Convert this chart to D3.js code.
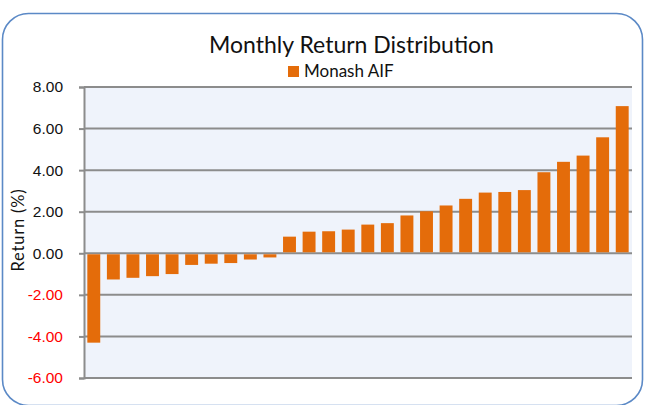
<!DOCTYPE html>
<html>
<head>
<meta charset="utf-8">
<script src="https://cdn.jsdelivr.net/npm/d3@7"></script>
<style>
  html, body { margin: 0; padding: 0; background: #fff; }
  svg { display: block; font-family: Lato, "Open Sans", sans-serif; }
</style>
</head>
<body>
<div id="chart"></div>
<script>
const WIDTH = 653;
const HEIGHT = 405;
const MARGIN = { top: 87, right: 21, bottom: 27, left: 84 };

// monthly returns, sorted ascending (%)
const returns = [
  -4.3, -1.26, -1.18, -1.1, -1.0, -0.56, -0.5, -0.47, -0.3, -0.2,
  0.8, 1.04, 1.06, 1.14, 1.38, 1.45, 1.82, 2.02, 2.3, 2.62,
  2.92, 2.95, 3.04, 3.9, 4.4, 4.7, 5.58, 7.08
];
const yTicks = [-6, -4, -2, 0, 2, 4, 6, 8];
const seriesName = "Monash AIF";
const title = "Monthly Return Distribution";

const svg = d3.select("#chart")
  .append("svg")
  .attr("width", WIDTH)
  .attr("height", HEIGHT);

// outer frame
svg.append("rect")
  .attr("x", 2.5)
  .attr("y", 13.5)
  .attr("width", 640)
  .attr("height", 392)
  .attr("rx", 26)
  .attr("fill", "#fff")
  .attr("stroke", "#5b89c6")
  .attr("stroke-width", 1.6);

const x = d3.scaleBand()
  .domain(returns.map((_, i) => i))
  .range([MARGIN.left, WIDTH - MARGIN.right])
  .paddingInner(0.34)
  .paddingOuter(0.17);

const y = d3.scaleLinear()
  .domain([-6, 8])
  .range([HEIGHT - MARGIN.bottom, MARGIN.top]);

svg.append("rect")
  .attr("x", MARGIN.left)
  .attr("y", y(8))
  .attr("width", WIDTH - MARGIN.right - MARGIN.left)
  .attr("height", y(-6) - y(8))
  .attr("fill", "#eff3fb");

// plain hyphen for negatives, as in the original
const fmt = (d) => (d < 0 ? "-" : "") + Math.abs(d).toFixed(2);

const yAxis = svg.append("g")
  .attr("transform", `translate(${MARGIN.left},0)`)
  .call(d3.axisLeft(y).tickValues(yTicks).tickSize(5).tickFormat(fmt));
yAxis.select(".domain").attr("stroke", "#8c8c8c").attr("stroke-width", 2);
yAxis.selectAll(".tick line").attr("stroke", "#8c8c8c").attr("stroke-width", 2);
yAxis.selectAll(".tick text")
  .attr("x", -21)
  .attr("font-size", 15.5)
  .attr("fill", (d) => (d < 0 ? "#ff0000" : "#111"));

svg.append("g")
  .selectAll("line")
  .data(yTicks)
  .join("line")
  .attr("x1", MARGIN.left)
  .attr("x2", WIDTH - MARGIN.right)
  .attr("y1", (d) => y(d))
  .attr("y2", (d) => y(d))
  .attr("stroke", "#8c8c8c")
  .attr("stroke-width", 2);

svg.append("g")
  .selectAll("rect")
  .data(returns)
  .join("rect")
  .attr("x", (d, i) => x(i))
  .attr("width", x.bandwidth())
  .attr("y", (d) => Math.min(y(d), y(0) + 1))
  .attr("height", (d) => Math.abs(y(d) - y(0)) - 1)
  .attr("fill", "#e46c0a");

// title and legend
svg.append("text")
  .attr("x", 351.5)
  .attr("y", 52.5)
  .attr("text-anchor", "middle")
  .attr("font-size", 23)
  .attr("fill", "#111")
  .text(title);

const legend = svg.append("g").attr("transform", "translate(288,66)");
legend.append("rect").attr("width", 11).attr("height", 11).attr("fill", "#e46c0a");
legend.append("text")
  .attr("x", 16)
  .attr("y", 11.3)
  .attr("font-size", 17)
  .attr("fill", "#111")
  .text(seriesName);

svg.append("text")
  .attr("transform", "rotate(-90)")
  .attr("x", -230)
  .attr("y", 24)
  .attr("text-anchor", "middle")
  .attr("font-size", 16.5)
  .attr("letter-spacing", 0.8)
  .attr("fill", "#111")
  .text("Return (%)");
</script>
</body>
</html>
